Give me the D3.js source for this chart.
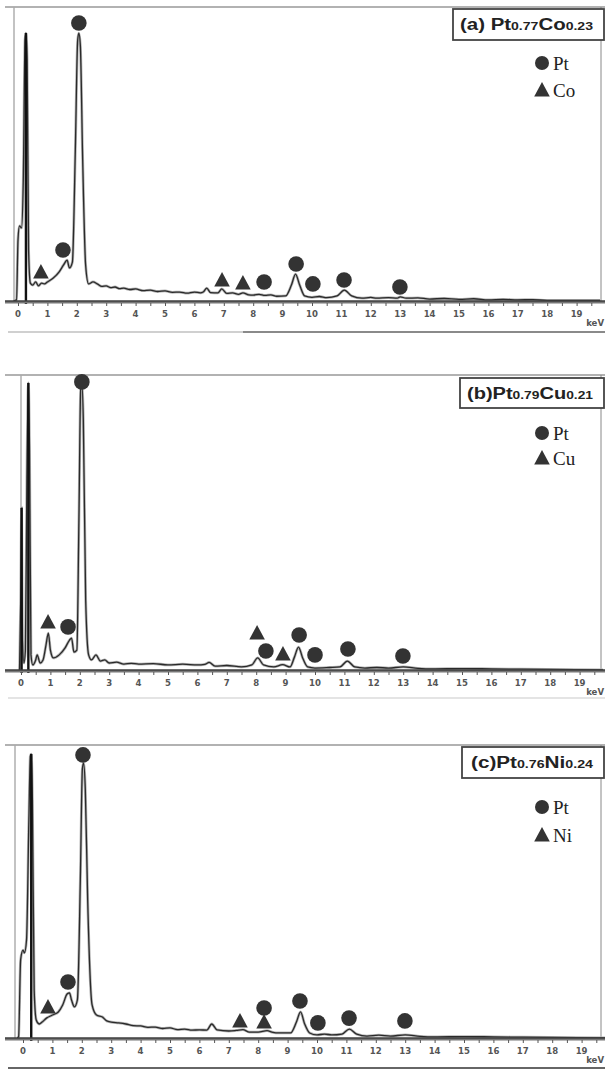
<!DOCTYPE html>
<html>
<head>
<meta charset="utf-8">
<title>EDS spectra Pt-Co / Pt-Cu / Pt-Ni</title>
<script src="https://cdn.jsdelivr.net/npm/d3@7"></script>
<style>
body { margin: 0; background: #fff; }
svg { display: block; }
.tick-label { font-family: "DejaVu Sans Condensed", "DejaVu Sans", sans-serif; font-size: 9.5px; font-weight: bold; fill: #555; }
.legend-label { font-family: "Liberation Serif", "Times New Roman", serif; font-size: 19px; fill: #222; }
.title { font-family: "Liberation Sans", Arial, sans-serif; font-weight: bold; fill: #222; }
</style>
</head>
<body>
<script>

// energy tick labels (keV)
var tickKeV = [0, 1, 2, 3, 4, 5, 6, 7, 8, 9, 10, 11, 12, 13, 14, 15, 16, 17, 18, 19];

var specA = [
  [-0.15, 0], [-0.05, 0.4], [0.0, 21.8], [0.05, 26.8], [0.12, 26.1], [0.18, 43.2], [0.24, 93.2], [0.27, 95.7],
  [0.31, 86.4], [0.36, 18.2], [0.42, 6.4], [0.5, 5.7], [0.6, 6.8], [0.7, 5.4], [0.8, 6.4], [0.9, 6.1], [1.0, 6.8],
  [1.2, 8.2], [1.4, 10.4], [1.55, 12.9], [1.67, 14.6], [1.75, 11.8], [1.85, 13.9], [1.95, 53.9], [2.03, 93.2],
  [2.07, 95.7], [2.12, 91.4], [2.2, 50.4], [2.3, 12.9], [2.4, 6.1], [2.55, 6.8], [2.7, 6.1], [2.85, 5.2],
  [3.0, 5.4], [3.15, 4.8], [3.3, 5.0], [3.45, 4.4], [3.6, 4.6], [3.8, 4.1], [4.0, 4.3], [4.25, 3.7], [4.5, 3.9],
  [4.75, 3.4], [5.0, 3.6], [5.25, 3.1], [5.5, 3.2], [5.75, 2.8], [6.0, 3.2], [6.2, 2.9], [6.3, 3.2], [6.42, 4.6],
  [6.55, 3.0], [6.8, 2.9], [6.93, 4.3], [7.1, 2.7], [7.3, 2.9], [7.5, 2.4], [7.65, 2.9], [7.85, 2.2], [8.0, 2.1],
  [8.2, 2.4], [8.4, 2.0], [8.6, 2.2], [8.8, 1.7], [9.1, 1.8], [9.3, 5.7], [9.44, 9.6], [9.58, 5.7], [9.75, 1.8],
  [10.0, 1.3], [10.25, 1.6], [10.5, 1.2], [10.85, 1.8], [11.1, 3.9], [11.35, 1.8], [11.7, 1.0], [12.0, 1.3],
  [12.2, 1.0], [12.6, 1.2], [12.9, 1.0], [13.0, 1.5], [13.2, 1.0], [13.6, 1.1], [14.0, 0.7], [14.5, 0.9],
  [15.0, 0.6], [15.5, 0.8], [16.0, 0.4], [16.5, 0.6], [17.0, 0.4], [17.5, 0.5], [18.0, 0.2], [19.8, 0.2]
];
var specB = [
  [-0.05, 0], [-0.01, 25.0], [0.02, 57.9], [0.05, 10.7], [0.1, 2.5], [0.15, 7.1], [0.2, 67.9], [0.25, 102.5],
  [0.29, 78.6], [0.34, 5.4], [0.4, 1.8], [0.5, 3.6], [0.55, 5.4], [0.65, 2.5], [0.75, 3.6], [0.85, 8.9],
  [0.93, 13.2], [1.0, 7.1], [1.1, 4.3], [1.3, 5.4], [1.5, 7.9], [1.65, 10.7], [1.72, 11.4], [1.8, 6.4],
  [1.9, 7.1], [1.97, 53.6], [2.03, 100.0], [2.07, 101.8], [2.12, 89.3], [2.2, 25.0], [2.3, 5.4], [2.4, 3.6],
  [2.55, 5.4], [2.7, 3.2], [2.85, 3.6], [3.0, 2.5], [3.25, 2.8], [3.5, 2.1], [3.75, 2.4], [4.0, 2.1], [4.5, 2.3],
  [5.0, 1.8], [5.5, 2.1], [6.0, 1.8], [6.25, 2.0], [6.4, 2.7], [6.6, 1.4], [7.0, 1.6], [7.5, 1.1], [7.85, 1.8],
  [8.05, 4.3], [8.25, 1.8], [8.6, 1.1], [8.9, 1.9], [9.15, 1.1], [9.3, 4.6], [9.44, 8.2], [9.58, 4.3],
  [9.75, 1.1], [10.0, 0.7], [10.5, 0.9], [10.85, 1.1], [11.1, 3.2], [11.35, 1.1], [11.7, 0.7], [12.1, 0.9],
  [12.5, 0.7], [13.0, 1.1], [13.5, 0.6], [14.0, 0.4], [15.0, 0.5], [16.0, 0.4], [17.0, 0.3], [19.8, 0]
];
var specC = [
  [-0.2, 0], [-0.15, 0.4], [-0.08, 28.0], [0.0, 31.4], [0.05, 30.4], [0.12, 35.0], [0.2, 77.9], [0.25, 100.7],
  [0.28, 101.4], [0.32, 85.0], [0.38, 17.1], [0.45, 6.4], [0.55, 5.0], [0.65, 5.7], [0.8, 7.1], [1.0, 8.2],
  [1.2, 9.3], [1.35, 11.8], [1.5, 15.7], [1.58, 16.1], [1.65, 13.6], [1.75, 11.1], [1.85, 13.6], [1.95, 56.4],
  [2.02, 96.1], [2.06, 98.2], [2.12, 88.6], [2.2, 49.3], [2.35, 11.8], [2.5, 8.2], [2.7, 7.5], [2.85, 6.1],
  [3.0, 5.7], [3.25, 5.4], [3.5, 5.0], [3.75, 4.4], [4.0, 4.3], [4.25, 3.8], [4.5, 3.9], [4.75, 3.4], [5.0, 3.6],
  [5.25, 3.0], [5.5, 3.2], [5.75, 2.8], [6.0, 2.9], [6.25, 2.8], [6.42, 5.0], [6.6, 2.9], [7.0, 2.5], [7.25, 2.7],
  [7.48, 3.0], [7.7, 2.1], [8.0, 2.1], [8.3, 2.6], [8.5, 2.0], [8.7, 1.8], [9.1, 1.8], [9.3, 5.7], [9.44, 9.3],
  [9.58, 5.0], [9.75, 1.8], [10.0, 1.1], [10.25, 1.4], [10.5, 1.1], [10.85, 1.4], [11.1, 3.2], [11.35, 1.4],
  [11.7, 0.7], [12.1, 1.0], [12.5, 0.7], [13.0, 1.1], [13.5, 0.6], [14.0, 0.4], [15.0, 0.5], [16.0, 0.4],
  [17.0, 0.3], [19.8, 0]
];

// detector peaks drawn in black : [keV, intensity]
var darkA = [[0.27, 95.7]];
var darkB = [[0.02, 57.9], [0.25, 102.5]];
var darkC = [[0.28, 101.4]];

// peak markers : [keV, intensity at marker centre]
var ptA = [[1.53, 18.2], [2.07, 99.3], [8.37, 6.8], [9.46, 13.2], [10.03, 6.1], [11.09, 7.5], [12.99, 5.0]];
var coA = [[0.78, 10.4], [6.94, 7.5], [7.65, 6.4]];
var ptB = [[1.6, 15.4], [2.07, 102.9], [8.33, 6.8], [9.46, 12.5], [10.0, 5.4], [11.12, 7.5], [12.99, 5.0]];
var cuB = [[0.92, 17.1], [8.03, 13.2], [8.91, 5.7]];
var ptC = [[1.53, 20.0], [2.04, 101.1], [8.2, 10.7], [9.42, 13.2], [10.03, 5.4], [11.09, 7.1], [12.99, 6.1]];
var niC = [[0.85, 11.1], [7.38, 6.1], [8.2, 5.7]];

// titles : main text / subscript alternating
var titleA = ["(a) Pt", "0.77", "Co", "0.23"];
var titleB = ["(b)Pt", "0.79", "Cu", "0.21"];
var titleC = ["(c)Pt", "0.76", "Ni", "0.24"];
var legendA = ["Pt", "Co"];
var legendB = ["Pt", "Cu"];
var legendC = ["Pt", "Ni"];

var width = 605, height = 1071;

var svg = d3.select("body").append("svg")
  .attr("width", width)
  .attr("height", height);

var panels = [
  { spec: specA, dark: darkA, pt: ptA, el: coA, title: titleA, legend: legendA,
    top: 7, base: 301, left: 14, x0: 18, box: [453, 9, 151, 31], tx: 460, tw: 133, ly: [63, 90], scroll: [332, 243, "#d0d0d0", "#8a8a8a"] },
  { spec: specB, dark: darkB, pt: ptB, el: cuB, title: titleB, legend: legendB,
    top: 375, base: 670, left: 21, x0: 21, box: [460, 378, 144, 30], tx: 467, tw: 126, ly: [433, 458], scroll: [698, 605, "#e4e4e4", "#e4e4e4"] },
  { spec: specC, dark: darkC, pt: ptC, el: niC, title: titleC, legend: legendC,
    top: 745, base: 1038, left: 15, x0: 23, box: [462, 747, 142, 31], tx: 471, tw: 122, ly: [807, 835], scroll: [1068, 605, "#666", "#666"] }
];

var triangle = "M0,-8L7.8,6.5L-7.8,6.5Z";

panels.forEach(function(p) {
  var g = svg.append("g");

  var x = d3.scaleLinear().domain([0, 19]).range([p.x0, p.x0 + 19 * 29.4]);
  var y = d3.scaleLinear().domain([0, 100]).range([p.base, p.base - 280]);

  // frame
  g.append("line").attr("x1", 5).attr("x2", 605).attr("y1", p.top).attr("y2", p.top)
    .attr("stroke", "#999").attr("stroke-width", 1.6);
  g.append("line").attr("x1", p.left).attr("x2", p.left).attr("y1", p.top).attr("y2", p.base)
    .attr("stroke", "#aaa").attr("stroke-width", 1.4);
  g.append("line").attr("x1", 601).attr("x2", 601).attr("y1", p.top).attr("y2", p.base)
    .attr("stroke", "#888").attr("stroke-width", 1);

  // lower scroll bar
  g.append("line").attr("x1", 8).attr("x2", p.scroll[1]).attr("y1", p.scroll[0]).attr("y2", p.scroll[0])
    .attr("stroke", p.scroll[2]).attr("stroke-width", 2);
  g.append("line").attr("x1", p.scroll[1]).attr("x2", 605).attr("y1", p.scroll[0]).attr("y2", p.scroll[0])
    .attr("stroke", p.scroll[3]).attr("stroke-width", 2);

  // spectrum
  var line = d3.line()
    .x(function(d) { return x(d[0]); })
    .y(function(d) { return y(d[1]); })
    .curve(d3.curveMonotoneX);

  g.append("path").datum(p.spec).attr("d", line)
    .attr("fill", "none").attr("stroke", "#b5b5b5").attr("stroke-width", 2.8);
  g.append("path").datum(p.spec).attr("d", line)
    .attr("fill", "none").attr("stroke", "#2a2a2a").attr("stroke-width", 1.3);

  g.selectAll(".dark").data(p.dark).enter().append("line")
    .attr("x1", function(d) { return x(d[0]); })
    .attr("x2", function(d) { return x(d[0]); })
    .attr("y1", p.base + 3)
    .attr("y2", function(d) { return y(d[1]); })
    .attr("stroke", "#111").attr("stroke-width", 2.4);

  // baseline + ticks
  g.append("line").attr("x1", 5).attr("x2", 605).attr("y1", p.base + 1).attr("y2", p.base + 1)
    .attr("stroke", "#777").attr("stroke-width", 3);
  g.append("line").attr("x1", 5).attr("x2", 605).attr("y1", p.base).attr("y2", p.base)
    .attr("stroke", "#222").attr("stroke-width", 1.2);

  var axis = d3.axisBottom(x)
    .tickValues(d3.range(0, 19.6, 0.5))
    .tickSize(3)
    .tickFormat("");
  var ag = g.append("g").attr("transform", "translate(0," + (p.base + 2) + ")").call(axis);
  ag.select(".domain").remove();
  ag.selectAll(".tick line").attr("stroke", "#555");

  g.selectAll(".tick-label").data(tickKeV).enter().append("text")
    .attr("class", "tick-label")
    .attr("x", function(d) { return x(d); })
    .attr("y", p.base + 16)
    .attr("text-anchor", "middle")
    .text(function(d) { return d; });

  g.append("text").attr("class", "tick-label")
    .attr("x", 604).attr("y", p.base + 25)
    .attr("text-anchor", "end")
    .text("keV");

  // peak markers
  g.selectAll(".pt").data(p.pt).enter().append("circle")
    .attr("cx", function(d) { return x(d[0]); })
    .attr("cy", function(d) { return y(d[1]); })
    .attr("r", 7.8)
    .attr("fill", "#333");

  g.selectAll(".el").data(p.el).enter().append("path")
    .attr("d", triangle)
    .attr("transform", function(d) { return "translate(" + x(d[0]) + "," + y(d[1]) + ")"; })
    .attr("fill", "#333");

  // title box
  g.append("rect")
    .attr("x", p.box[0]).attr("y", p.box[1]).attr("width", p.box[2]).attr("height", p.box[3])
    .attr("fill", "#fff").attr("stroke", "#444").attr("stroke-width", 1.8);

  var t = g.append("text").attr("class", "title")
    .attr("x", p.tx).attr("y", p.box[1] + 21)
    .attr("textLength", p.tw).attr("lengthAdjust", "spacingAndGlyphs");
  p.title.forEach(function(s, i) {
    t.append("tspan").attr("font-size", i % 2 ? 11 : 16).text(s);
  });

  // legend
  g.append("circle").attr("cx", 542).attr("cy", p.ly[0]).attr("r", 7).attr("fill", "#333");
  g.append("path").attr("d", triangle).attr("transform", "translate(542," + p.ly[1] + ")").attr("fill", "#333");
  g.selectAll(".legend-label").data(p.legend).enter().append("text")
    .attr("class", "legend-label")
    .attr("x", 553)
    .attr("y", function(d, i) { return p.ly[i] + 6.5; })
    .text(function(d) { return d; });
});

</script>
</body>
</html>
